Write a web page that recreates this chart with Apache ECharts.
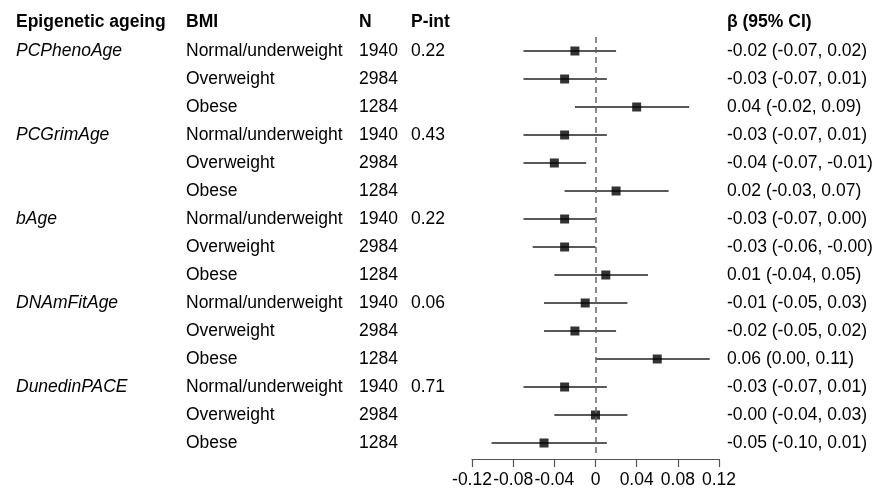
<!DOCTYPE html>
<html>
<head>
<meta charset="utf-8">
<script src="https://cdn.jsdelivr.net/npm/echarts@6/dist/echarts.min.js"></script>
<style>html,body{margin:0;padding:0;background:#fff}#c{width:886px;height:491px}</style>
</head>
<body>
<div id="c"></div>
<script>
var headers = ['Epigenetic ageing', 'BMI', 'N', 'P-int', 'β (95% CI)'];
var ageing = ['PCPhenoAge', 'PCGrimAge', 'bAge', 'DNAmFitAge', 'DunedinPACE'];
var pint = ['0.22', '0.43', '0.22', '0.06', '0.71'];
var bmiGroups = ['Normal/underweight', 'Overweight', 'Obese'];
var nCounts = ['1940', '2984', '1284'];
var est   = [-0.020, -0.030, 0.040, -0.030, -0.040, 0.020, -0.030, -0.030, 0.010, -0.010, -0.020, 0.060, -0.030, 0.000, -0.050];
var lower = [-0.070, -0.070, -0.020, -0.070, -0.070, -0.030, -0.070, -0.061, -0.040, -0.050, -0.050, 0.000, -0.070, -0.040, -0.101];
var upper = [0.020, 0.011, 0.091, 0.011, -0.009, 0.071, 0.000, 0.000, 0.051, 0.031, 0.020, 0.111, 0.011, 0.031, 0.011];
var ciLabels = ['-0.02 (-0.07, 0.02)', '-0.03 (-0.07, 0.01)', '0.04 (-0.02, 0.09)',
  '-0.03 (-0.07, 0.01)', '-0.04 (-0.07, -0.01)', '0.02 (-0.03, 0.07)',
  '-0.03 (-0.07, 0.00)', '-0.03 (-0.06, -0.00)', '0.01 (-0.04, 0.05)',
  '-0.01 (-0.05, 0.03)', '-0.02 (-0.05, 0.02)', '0.06 (0.00, 0.11)',
  '-0.03 (-0.07, 0.01)', '-0.00 (-0.04, 0.03)', '-0.05 (-0.10, 0.01)'];
var xTicks = {min: -0.12, max: 0.12, interval: 0.04};

var FONT = 'Liberation Sans, Arial, sans-serif';
var FS = 17.5;
var rows = [];
for (var i = 0; i < est.length; i++) rows.push(i);

var colX = {ageing: 16, bmi: 186, n: 359, pint: 411, ci: 727};

function textSeries(dataArr, x, style) {
  return {
    type: 'custom',
    silent: true,
    clip: false,
    data: dataArr,
    renderItem: function (params, api) {
      var y = api.coord([0, api.value(0)])[1];
      var d = dataArr[params.dataIndex];
      return {
        type: 'text',
        style: {
          text: d[1], x: x, y: y + 0.5, textAlign: 'left', textVerticalAlign: 'middle',
          font: (style || '') + ' ' + FS + 'px ' + FONT, fill: '#000'
        }
      };
    }
  };
}

var ageingData = ageing.map(function (a, k) { return [k * 3, a]; });
var pintData = pint.map(function (p, k) { return [k * 3, p]; });
var bmiData = rows.map(function (r) { return [r, bmiGroups[r % 3]]; });
var nData = rows.map(function (r) { return [r, nCounts[r % 3]]; });
var ciData = rows.map(function (r) { return [r, ciLabels[r]]; });

function header(t, x) {
  return {type: 'text', x: x, y: 22, style: {text: t, font: 'bold ' + FS + 'px ' + FONT, fill: '#000', textVerticalAlign: 'middle'}};
}

var chart = echarts.init(document.getElementById('c'), null, {renderer: 'canvas'});
chart.setOption({
  animation: false,
  backgroundColor: '#fff',
  grid: {left: 472, right: 167, top: 37, height: 420},
  xAxis: {
    type: 'value', min: xTicks.min, max: xTicks.max, interval: xTicks.interval,
    offset: 2,
    axisLine: {show: true, lineStyle: {color: '#555', width: 1.2}},
    axisTick: {show: true, length: 8, lineStyle: {color: '#555', width: 1.2}},
    splitLine: {show: false},
    axisLabel: {
      color: '#000', fontSize: FS, fontFamily: FONT, margin: 12, showMinLabel: true, showMaxLabel: true,
      hideOverlap: false,
      formatter: function (v) { var r = Math.round(v * 100) / 100; return r === 0 ? '0' : r.toFixed(2); }
    }
  },
  yAxis: {
    type: 'category', data: rows, inverse: true, show: false,
    axisLine: {show: false}, axisTick: {show: false}, axisLabel: {show: false}
  },
  graphic: [
    header(headers[0], colX.ageing),
    header(headers[1], colX.bmi),
    header(headers[2], colX.n),
    header(headers[3], colX.pint),
    header(headers[4], colX.ci)
  ],
  series: [
    {
      type: 'custom',
      silent: true,
      data: rows.map(function (r) { return [lower[r], upper[r], r]; }),
      encode: {x: [0, 1], y: 2},
      renderItem: function (params, api) {
        var p1 = api.coord([api.value(0), api.value(2)]);
        var p2 = api.coord([api.value(1), api.value(2)]);
        return {type: 'line', shape: {x1: p1[0], y1: p1[1], x2: p2[0], y2: p2[1]},
          style: {stroke: '#222', lineWidth: 1.3}};
      },
      z: 2
    },
    {
      type: 'scatter',
      symbol: 'rect',
      symbolSize: 9,
      itemStyle: {color: '#000'},
      data: rows.map(function (r) { return [est[r], r]; }),
      z: 3,
      markLine: {
        silent: true, symbol: 'none', label: {show: false},
        lineStyle: {type: [6, 4], color: '#666', width: 1.5},
        data: [{xAxis: 0}]
      }
    },
    textSeries(ageingData, colX.ageing, 'italic'),
    textSeries(bmiData, colX.bmi, ''),
    textSeries(nData, colX.n, ''),
    textSeries(pintData, colX.pint, ''),
    textSeries(ciData, colX.ci, '')
  ]
});
</script>
</body>
</html>
